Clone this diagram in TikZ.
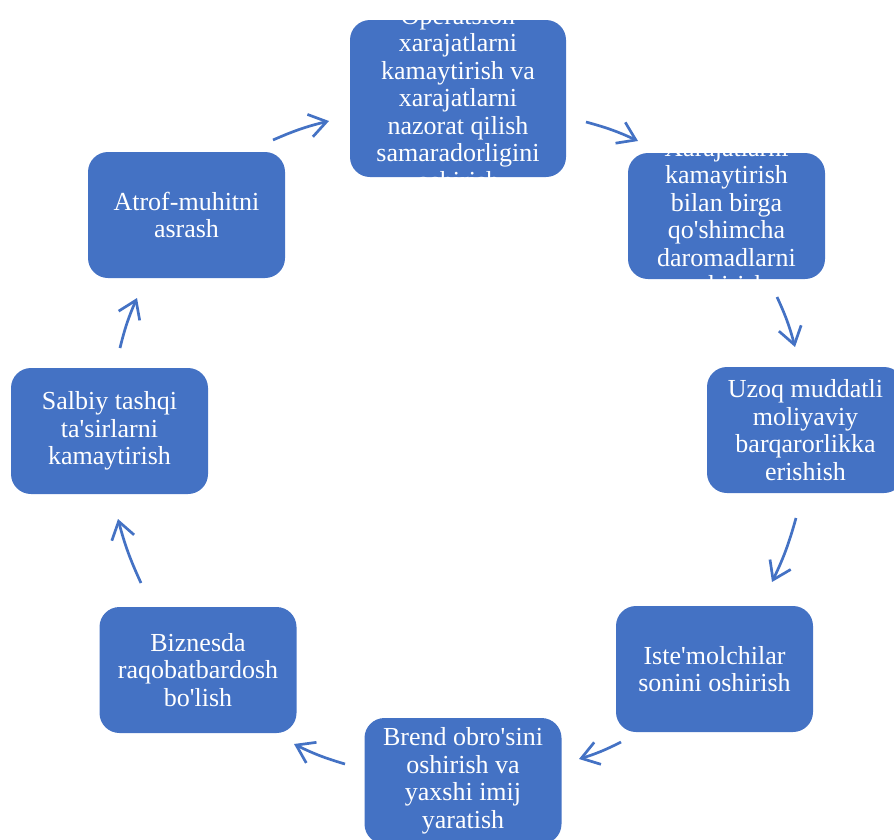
\documentclass[tikz,border=0pt]{standalone}
\usepackage{fontspec}
\setmainfont{Liberation Serif}[Ligatures=TeXOff]
\usetikzlibrary{arrows.meta}
\definecolor{boxblue}{HTML}{4472C4}

\begin{document}
\begin{tikzpicture}[x=1pt,y=-1pt,
    stage/.style={fill=boxblue,rounded corners=20pt,minimum width=197pt,minimum height=126pt,inner sep=0pt},
    stagetext/.style={text=white,align=center,inner sep=0pt,font=\fontsize{26}{27.5}\selectfont},
    flow/.style={draw=boxblue,line width=2.7pt,-{Straight Barb[length=17pt,width=23pt]}}]
  \useasboundingbox (0,0) rectangle (894,839);
  % boxes
  \node[stage,minimum width=216pt,minimum height=157pt] (s1) at (458,98.5) {};
  \node[stage] (s2) at (726.5,216) {};
  \node[stage] (s3) at (805.5,430) {};
  \node[stage] (s4) at (714.5,669) {};
  \node[stage] (s5) at (463,781) {};
  \node[stage] (s6) at (198,670) {};
  \node[stage] (s7) at (109.5,431) {};
  \node[stage] (s8) at (186.5,215) {};
  % texts
  \node[stagetext] (t1) at (s1) {Operatsion\\xarajatlarni\\kamaytirish va\\xarajatlarni\\nazorat qilish\\samaradorligini\\oshirish};
  \node[stagetext] (t2) at (s2) {Xarajatlarni\\kamaytirish\\bilan birga\\qo'shimcha\\daromadlarni\\oshirish};
  \node[stagetext] (t3) at (s3) {Uzoq muddatli\\moliyaviy\\barqarorlikka\\erishish};
  \node[stagetext] (t4) at (s4) {Iste'molchilar\\sonini oshirish};
  \node[stagetext] (t5) at (s5) {Brend obro'sini\\oshirish va\\yaxshi imij\\yaratish};
  \node[stagetext] (t6) at (s6) {Biznesda\\raqobatbardosh\\bo'lish};
  \node[stagetext] (t7) at (s7) {Salbiy tashqi\\ta'sirlarni\\kamaytirish};
  \node[stagetext] (t8) at (s8) {Atrof-muhitni\\asrash};
  % arrow ends
  \coordinate (out8) at (273,140);
  \coordinate (in1) at (329,121);
  \coordinate (out1) at (586,122);
  \coordinate (in2) at (638,141);
  \coordinate (out2) at (777,297);
  \coordinate (in3) at (795,347);
  \coordinate (out3) at (796,518);
  \coordinate (in4) at (772,582);
  \coordinate (out4) at (621,742);
  \coordinate (in5) at (579,759);
  \coordinate (out5) at (345,764);
  \coordinate (in6) at (294,744);
  \coordinate (out6) at (141,583);
  \coordinate (in7) at (118,519);
  \coordinate (out7) at (120,348);
  \coordinate (in8) at (137,298);
  \begin{scope}[flow]
    \draw (out8) to[bend left=5] (in1);
    \draw (out1) to[bend left=5] (in2);
    \draw (out2) to[bend left=5] (in3);
    \draw (out3) to[bend left=5] (in4);
    \draw (out4) to[bend left=5] (in5);
    \draw (out5) to[bend left=5] (in6);
    \draw (out6) to[bend left=5] (in7);
    \draw (out7) to[bend left=5] (in8);
  \end{scope}
\end{tikzpicture}
\end{document}
